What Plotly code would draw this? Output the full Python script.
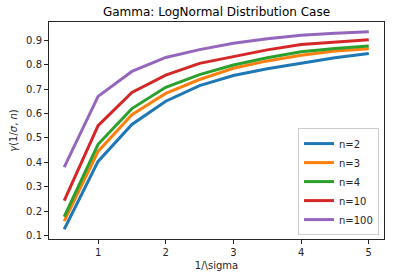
import plotly.graph_objects as go

x_vals = [0.5, 1.0, 1.5, 2.0, 2.5, 3.0, 3.5, 4.0, 4.5, 5.0]
labels = ["n=2", "n=3", "n=4", "n=10", "n=100"]
gamma_n2 = [0.127, 0.404, 0.555, 0.650, 0.714, 0.755, 0.783, 0.806, 0.828, 0.845]
gamma_n3 = [0.160, 0.445, 0.595, 0.682, 0.739, 0.785, 0.815, 0.838, 0.855, 0.865]
gamma_n4 = [0.178, 0.474, 0.620, 0.707, 0.759, 0.798, 0.828, 0.852, 0.866, 0.876]
gamma_n10 = [0.244, 0.550, 0.686, 0.757, 0.805, 0.833, 0.860, 0.882, 0.893, 0.901]
gamma_n100 = [0.381, 0.670, 0.772, 0.829, 0.861, 0.887, 0.906, 0.920, 0.928, 0.934]
series = [gamma_n2, gamma_n3, gamma_n4, gamma_n10, gamma_n100]
colors = ["#1f77b4", "#ff7f0e", "#2ca02c", "#d62728", "#9467bd"]

fig = go.Figure()
for lab, ys, c in zip(labels, series, colors):
    fig.add_trace(go.Scatter(x=x_vals, y=ys, mode="lines", name=lab,
                             line=dict(color=c, width=3)))

font = "DejaVu Sans"
fig.update_layout(
    width=393, height=278,
    margin=dict(l=49, r=9, t=22, b=39),
    paper_bgcolor="white", plot_bgcolor="white",
    font=dict(family=font, size=10, color="#262626"),
    title=dict(text="Gamma: LogNormal Distribution Case", x=(49 + 384) / 2 / 393,
               xanchor="center", y=1 - 12 / 278, yanchor="middle",
               font=dict(size=12, color="black")),
    showlegend=True,
    legend=dict(x=0.985, y=0.018, xanchor="right", yanchor="bottom",
                bgcolor="white", bordercolor="#cccccc", borderwidth=1,
                font=dict(size=10, color="#262626"), tracegroupgap=0,
                itemwidth=30),
)
fig.update_xaxes(range=[0.275, 5.225], tickvals=[1, 2, 3, 4, 5], automargin=False,
                 showgrid=False, zeroline=False, showline=True, mirror=True,
                 linecolor="#262626", linewidth=1, ticks="outside", ticklen=4,
                 tickcolor="#262626",
                 title=dict(text="1/\\sigma", standoff=4, font=dict(size=10)))
fig.update_yaxes(range=[0.087, 0.974], automargin=False,
                 tickvals=[0.1, 0.2, 0.3, 0.4, 0.5, 0.6, 0.7, 0.8, 0.9],
                 ticktext=["0.1", "0.2", "0.3", "0.4", "0.5", "0.6", "0.7", "0.8", "0.9"],
                 showgrid=False, zeroline=False, showline=True, mirror=True,
                 linecolor="#262626", linewidth=1, ticks="outside", ticklen=4,
                 tickcolor="#262626",
                 title=dict(text="<i>γ</i>(1/<i>σ</i>, <i>n</i>)", standoff=6,
                            font=dict(size=10)))

fig.write_html("out.html", config={"displayModeBar": False},
               post_script="document.body.style.margin='0';document.body.style.overflow='hidden';")
